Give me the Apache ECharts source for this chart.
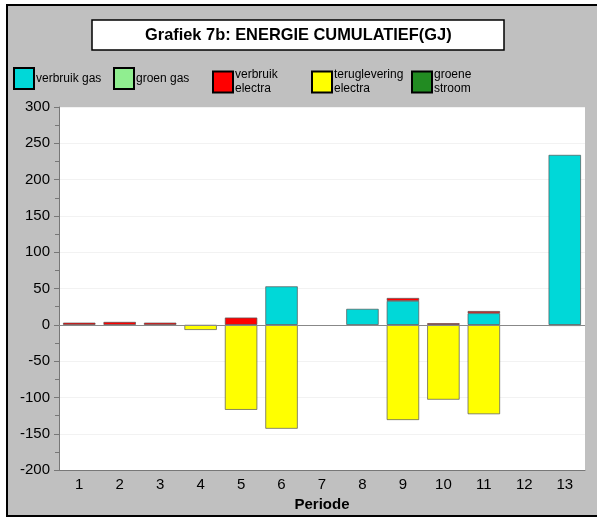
<!DOCTYPE html>
<html><head><meta charset="utf-8">
<script src="https://cdn.jsdelivr.net/npm/echarts@6/dist/echarts.min.js"></script>
<style>html,body{margin:0;padding:0;background:#fff}#c{width:597px;height:517px}</style>
</head><body><div id="c"></div>
<script>
var periods = ['1','2','3','4','5','6','7','8','9','10','11','12','13'];
var verbruikGas = [null,null,null,null,null,53,null,22,33,null,16,null,234];
var groenGas = [null,null,null,null,null,null,null,null,null,null,null,null,null];
var verbruikElectra = [3,4,3,null,10,null,null,null,4,2.3,3,null,null];
var terugleveringElectra = [null,null,null,-7,-117,-143,null,null,-131,-103,-123,null,-1.5];
var groeneStroom = [null,null,null,null,null,null,null,null,null,null,null,null,null];
var yTicks = {min:-200, max:300, step:50};

var chart = echarts.init(document.getElementById('c'));
var font = 'Liberation Sans, Arial, sans-serif';
function bar(name, data, color){
  return {name:name, type:'bar', stack:'s', data:data, barWidth:'80%',
    itemStyle:{color:color, borderColor:'#555', borderWidth:0.7}};
}
var legendDefs = [
  ['verbruik gas', 13], ['groen gas', 113], ['verbruik\nelectra', 212],
  ['teruglevering\nelectra', 311], ['groene\nstroom', 411]
];
var legends = legendDefs.map(function(d){
  return {data:[d[0]], left:d[1], top:67, padding:0, itemWidth:20, itemHeight:21, icon:'rect',
    itemStyle:{borderColor:'#000', borderWidth:2},
    textStyle:{fontFamily:font, fontSize:12, color:'#000', lineHeight:14, padding:[2,0,0,-3]}};
});
var series = [
  bar('verbruik gas', verbruikGas, '#00D8D8'),
  bar('groen gas', groenGas, '#90EE90'),
  bar('verbruik\nelectra', verbruikElectra, '#FF0000'),
  bar('teruglevering\nelectra', terugleveringElectra, '#FFFF00'),
  bar('groene\nstroom', groeneStroom, '#228B22')
];
series[0].markLine = {silent:true, symbol:'none', label:{show:false},
  lineStyle:{color:'#888', type:'solid', width:1}, data:[{yAxis:0}]};
chart.setOption({
  animation:false,
  backgroundColor:'#C0C0C0',
  title:{text:'Grafiek 7b: ENERGIE CUMULATIEF(GJ)', left:92, top:20,
    padding:[7,53], backgroundColor:'#fff', borderColor:'#000', borderWidth:1.5,
    textStyle:{fontFamily:font, fontSize:16.4, fontWeight:'bold', color:'#000'}},
  legend:legends,
  graphic:[
    {type:'rect', shape:{x:0,y:0,width:597,height:5}, style:{fill:'#fff'}, silent:true},
    {type:'rect', shape:{x:0,y:0,width:7,height:517}, style:{fill:'#fff'}, silent:true},
    {type:'rect', shape:{x:7,y:5,width:600,height:511}, style:{fill:null, stroke:'#000', lineWidth:2}, silent:true}
  ],
  grid:{left:59, right:12, top:107, bottom:44, show:true, backgroundColor:'#fff', borderWidth:0},
  xAxis:{type:'category', data:periods, name:'Periode', nameLocation:'middle', nameGap:25,
    nameTextStyle:{fontFamily:font, fontSize:15, fontWeight:'bold', color:'#000'},
    axisLine:{onZero:false, lineStyle:{color:'#777'}},
    axisTick:{alignWithLabel:true, length:5, lineStyle:{color:'#777'}},
    axisLabel:{fontFamily:font, fontSize:15, color:'#000', margin:7}},
  yAxis:{type:'value', min:yTicks.min, max:yTicks.max, interval:yTicks.step,
    axisLine:{show:true, lineStyle:{color:'#777'}},
    axisTick:{show:true, length:5, lineStyle:{color:'#777'}},
    minorTick:{show:true, splitNumber:2, length:4, lineStyle:{color:'#777'}},
    splitLine:{show:true, lineStyle:{color:'#f2f2f2'}},
    axisLabel:{fontFamily:font, fontSize:15, color:'#000', margin:9}},
  series:series
});
</script></body></html>
